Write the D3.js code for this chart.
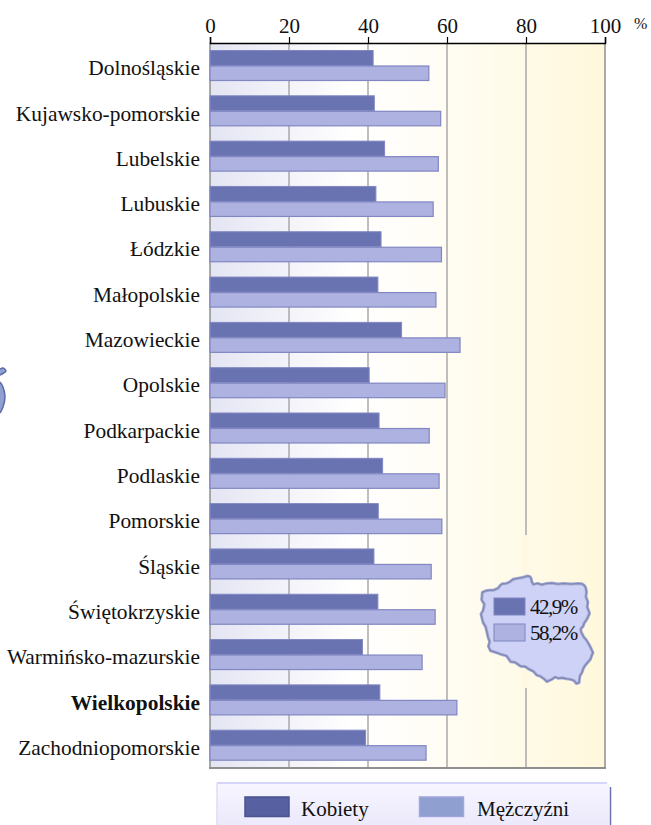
<!DOCTYPE html>
<html><head><meta charset="utf-8">
<script src="https://cdn.jsdelivr.net/npm/d3@7/dist/d3.min.js"></script>
<style>html,body{margin:0;padding:0;background:#fff}svg{display:block}svg text{font-family:"Liberation Serif","Times New Roman",Times,serif !important;fill:#111}</style>
</head><body><div id="c"></div>
<script>
const regions=["Dolnośląskie","Kujawsko-pomorskie","Lubelskie","Lubuskie","Łódzkie","Małopolskie","Mazowieckie","Opolskie","Podkarpackie","Podlaskie","Pomorskie","Śląskie","Świętokrzyskie","Warmińsko-mazurskie","Wielkopolskie","Zachodniopomorskie"];
const kobiety=[41.3,41.6,44.2,42,43.3,42.5,48.5,40.3,42.8,43.7,42.6,41.5,42.5,38.6,43,39.4];
const mezczyzni=[55.4,58.4,57.8,56.5,58.6,57.2,63.3,59.5,55.5,58,58.7,56,57,53.7,62.5,54.7];
const ticks=[0,20,40,60,80,100];
const seriesNames=["Kobiety","Mężczyźni"];
const nationalValues=["42,9%","58,2%"];
const boldRegion="Wielkopolskie";

const svg=d3.select("#c").append("svg").attr("width",651).attr("height",825);
const defs=svg.append("defs");
const bg=defs.append("linearGradient").attr("id","bg");
[[0,"#e4e5f3"],[.36,"#ffffff"],[.55,"#fffdf6"],[1,"#fff8dc"]].forEach(d=>bg.append("stop").attr("offset",d[0]).attr("stop-color",d[1]));
const lg=defs.append("linearGradient").attr("id","lg").attr("x1",0).attr("y1",0).attr("x2",0).attr("y2",1);
lg.append("stop").attr("offset",0).attr("stop-color","#f7f6ff");lg.append("stop").attr("offset",1).attr("stop-color","#ebe9fb");

const x=d3.scaleLinear().domain([0,100]).range([210,605]);
const y=d3.scaleBand().domain(regions).range([45.5,770.5]);
const plotTop=43,plotBottom=768;

svg.append("rect").attr("x",x(0)).attr("y",plotTop).attr("width",x(100)-x(0)).attr("height",plotBottom-plotTop).attr("fill","url(#bg)");
svg.selectAll(".grid").data(ticks).join("line").attr("x1",d=>x(d)).attr("x2",d=>x(d)).attr("y1",plotTop).attr("y2",plotBottom)
 .attr("stroke",d=>d===0||d===100?"#8f8f8f":"#a9a9a9").attr("stroke-width",1.5);
svg.append("line").attr("x1",x(0)-1).attr("x2",x(100)+1).attr("y1",plotBottom).attr("y2",plotBottom).attr("stroke","#8f8f8f").attr("stroke-width",2);

const ax=d3.axisTop(x).tickValues(ticks).tickSize(6).tickPadding(4);
const axg=svg.append("g").attr("transform",`translate(0,${plotTop})`).call(ax);
axg.select(".domain").attr("stroke","#000").attr("stroke-width",1.5);
axg.selectAll("line").attr("stroke","#000").attr("stroke-width",1.2);
axg.selectAll("text").attr("font-size",21);
svg.append("text").attr("x",634).attr("y",29).attr("font-size",16).text("%");

svg.selectAll(".d").data(regions).join("rect").attr("x",x(0)).attr("y",d=>y(d)+5).attr("height",15)
 .attr("width",(d,i)=>x(kobiety[i])-x(0)).attr("fill","#6a73b2").attr("stroke","#8087c2").attr("stroke-width",1);
svg.selectAll(".l").data(regions).join("rect").attr("x",x(0)).attr("y",d=>y(d)+20.5).attr("height",14.5)
 .attr("width",(d,i)=>x(mezczyzni[i])-x(0)).attr("fill","#adb2e0").attr("stroke","#8087c2").attr("stroke-width",1.2);

svg.selectAll(".r").data(regions).join("text").attr("x",200).attr("y",d=>y(d)+y.bandwidth()/2).attr("dy","0.33em")
 .attr("text-anchor","end").attr("font-size",21.4).attr("font-weight",d=>d===boldRegion?"bold":"normal").text(d=>d);

// map inset
svg.append("rect").attr("x",522).attr("y",535).attr("width",8).attr("height",153).attr("fill","#fff9e4");
const outline=[[8,65],[18,60],[30,58],[42,58],[55,52],[62,42],[68,38],[80,37],[90,32],[100,24],[110,22],[120,20],[130,18],[142,14],[150,16],[154,24],[155,32],[160,40],[172,37],[185,41],[200,37],[215,36],[232,39],[250,37],[272,39],[295,37],[306,39],[312,44],[316,52],[318,64],[316,78],[322,95],[320,110],[327,130],[322,142],[318,150],[311,160],[308,170],[301,178],[302,188],[310,204],[317,212],[325,226],[332,240],[337,252],[333,262],[330,272],[322,282],[315,290],[309,300],[305,312],[298,325],[296,345],[288,348],[280,338],[270,335],[258,333],[245,330],[235,332],[225,328],[213,336],[200,342],[192,334],[180,325],[170,322],[160,310],[148,304],[135,295],[122,294],[105,282],[92,280],[80,262],[66,258],[50,252],[32,246],[26,232],[30,218],[25,204],[22,190],[18,172],[10,158],[4,132],[10,122],[14,102],[6,88]]
 .map(p=>[481+(p[0]-4)*0.336,576+(p[1]-14)*0.322]);
const line=d3.line().curve(d3.curveLinearClosed)(outline);
svg.append("path").attr("d",line).attr("fill","#cdd2f6").attr("stroke","#a4abd0").attr("stroke-width",3).attr("stroke-linejoin","round");
svg.append("path").attr("d",line).attr("fill","none").attr("stroke","#8088b8").attr("stroke-width",1.3).attr("stroke-linejoin","round");
[0,1].forEach(i=>{
 const yy=598+i*26;
 svg.append("rect").attr("x",494).attr("y",yy).attr("width",31).attr("height",17).attr("fill",i?"#adb2e0":"#6a73b2").attr("stroke","#7f86c0");
 svg.append("text").attr("x",530).attr("y",yy+16).attr("font-size",21).attr("letter-spacing",-1.5).text(nationalValues[i]);
});

// legend
svg.append("rect").attr("x",217).attr("y",783).attr("width",392).attr("height",42).attr("fill","url(#lg)");
svg.append("line").attr("x1",217).attr("x2",607).attr("y1",783).attr("y2",783).attr("stroke","#d5d5fa").attr("stroke-width",2);
svg.append("line").attr("x1",217).attr("x2",217).attr("y1",783).attr("y2",825).attr("stroke","#dcdcf8").attr("stroke-width",1.5);
svg.append("line").attr("x1",610.5).attr("x2",610.5).attr("y1",787).attr("y2",825).attr("stroke","#6a6fb0").attr("stroke-width",1.5);
const lx=[245,419.5],tx=[301,477],lf=["#5760a0","#8f9fcf"],ls=["#4a5290","#a0a6dc"];
seriesNames.forEach((s,i)=>{
 svg.append("rect").attr("x",lx[i]).attr("y",797).attr("width",44).attr("height",19.5).attr("fill",lf[i]).attr("stroke",ls[i]).attr("stroke-width",1.5);
 svg.append("text").attr("x",tx[i]).attr("y",816).attr("font-size",21).text(s);
});

// cropped map fragment on left edge
svg.append("path").attr("d",d3.line().curve(d3.curveCatmullRom)([[0,369],[3,368],[6,371],[2,374],[0,375]])).attr("fill","#8f9fcf").attr("stroke","#5f6aa8").attr("stroke-width",1.5);
svg.append("path").attr("d",d3.line().curve(d3.curveCatmullRom)([[0,382],[3,387],[5,397],[3,407],[0,413]])).attr("fill","#8f9fcf").attr("stroke","#5f6aa8").attr("stroke-width",1.5);
</script></body></html>
